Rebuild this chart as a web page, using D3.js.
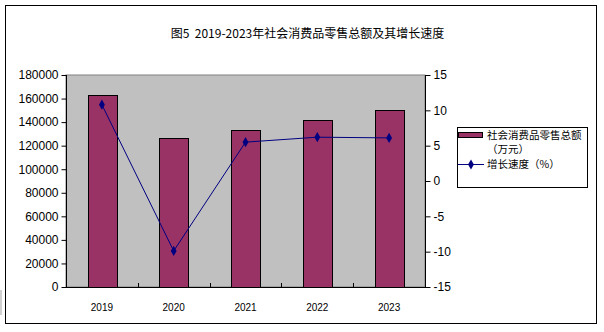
<!DOCTYPE html>
<html>
<head>
<meta charset="utf-8">
<script src="https://cdn.jsdelivr.net/npm/d3@7"></script>
<style>
  html, body { margin: 0; padding: 0; background: #fff; }
  svg { display: block; }
  text { font-family: Arial, "Liberation Sans", sans-serif; fill: #000; }
  .cjk { font-family: "Noto Sans CJK SC", sans-serif; }
</style>
</head>
<body>
<svg id="chart" width="604" height="332"></svg>
<script>
// Retail sales of consumer goods (万元) and growth rate (%), 2019–2023
const years = ["2019", "2020", "2021", "2022", "2023"];
const retailSales = [162800, 126200, 133000, 141500, 150000];
const growthRate = [10.8, -9.9, 5.5, 6.2, 6.1];
const leftTicks = [0, 20000, 40000, 60000, 80000, 100000, 120000, 140000, 160000, 180000];
const rightTicks = [-15, -10, -5, 0, 5, 10, 15];
const titleText = "图5  2019-2023年社会消费品零售总额及其增长速度";
const legendBar = ["社会消费品零售总额", "（万元）"];
const legendLine = "增长速度（%）";

const svg = d3.select("#chart");

// outer frame
svg.append("rect")
  .attr("x", 5.5).attr("y", 5.5)
  .attr("width", 591).attr("height", 318)
  .attr("fill", "#fff").attr("stroke", "#000").attr("stroke-width", 1);

// small stray mark at lower left edge
svg.append("rect")
  .attr("x", 0).attr("y", 290).attr("width", 2).attr("height", 25)
  .attr("fill", "#d0d0d0");

svg.append("text")
  .attr("class", "cjk")
  .attr("x", 307.5).attr("y", 37.5)
  .attr("text-anchor", "middle")
  .attr("font-size", 12)
  .attr("xml:space", "preserve")
  .text(titleText);

const plot = { left: 66, right: 425, top: 75, bottom: 287 };

const x = d3.scaleBand()
  .domain(years)
  .range([plot.left, plot.right])
  .paddingInner(0.6).paddingOuter(0.3);

const yL = d3.scaleLinear().domain([0, 180000]).range([plot.bottom, plot.top]);
const yR = d3.scaleLinear().domain([-15, 15]).range([plot.bottom, plot.top]);

// plot area
svg.append("rect")
  .attr("x", plot.left).attr("y", plot.top)
  .attr("width", plot.right - plot.left).attr("height", plot.bottom - plot.top)
  .attr("fill", "#c0c0c0").attr("stroke", "#808080").attr("stroke-width", 1);

// bars
svg.append("g").selectAll("rect")
  .data(years)
  .join("rect")
  .attr("x", d => Math.round(x(d)) + 0.5)
  .attr("y", (d, i) => Math.round(yL(retailSales[i])) + 0.5)
  .attr("width", Math.round(x.bandwidth()))
  .attr("height", (d, i) => Math.round(yL(0)) - Math.round(yL(retailSales[i])))
  .attr("fill", "#993366")
  .attr("stroke", "#000").attr("stroke-width", 1);

// left axis
const axL = svg.append("g")
  .attr("transform", `translate(${plot.left + 0.5},0)`)
  .call(d3.axisLeft(yL).tickValues(leftTicks).tickSize(5).tickPadding(3).tickFormat(d => String(d)));
// right axis
const axR = svg.append("g")
  .attr("transform", `translate(${plot.right + 0.5},0)`)
  .call(d3.axisRight(yR).tickValues(rightTicks).tickSize(5).tickPadding(3).tickFormat(d => String(d)));

[axL, axR].forEach(g => {
  g.select(".domain").attr("stroke", "#000").attr("d", `M0,${plot.top}V${plot.bottom + 0.5}`);
  g.selectAll(".tick line").attr("stroke", "#000");
  g.selectAll(".tick text").attr("font-size", 12).attr("fill", "#000")
    .attr("font-family", "Arial, 'Liberation Sans', sans-serif");
});

// bottom axis: category boundaries with inward ticks
const bounds = d3.range(years.length + 1).map(i => plot.left + i * (plot.right - plot.left) / years.length);
const axB = svg.append("g");
axB.append("line")
  .attr("x1", plot.left).attr("x2", plot.right + 1)
  .attr("y1", plot.bottom + 0.5).attr("y2", plot.bottom + 0.5)
  .attr("stroke", "#000");
axB.selectAll("line.tk")
  .data(bounds.slice(1, -1))
  .join("line").attr("class", "tk")
  .attr("x1", d => Math.round(d) + 0.5).attr("x2", d => Math.round(d) + 0.5)
  .attr("y1", plot.bottom).attr("y2", plot.bottom - 4)
  .attr("stroke", "#000");
axB.selectAll("text")
  .data(years)
  .join("text")
  .attr("x", d => x(d) + x.bandwidth() / 2)
  .attr("y", 307)
  .attr("dy", "0.35em")
  .attr("text-anchor", "middle")
  .attr("font-size", 10)
  .text(d => d);

// growth line
const line = d3.line()
  .x((d, i) => x(years[i]) + x.bandwidth() / 2)
  .y(d => yR(d));
svg.append("path")
  .datum(growthRate)
  .attr("d", line)
  .attr("fill", "none")
  .attr("stroke", "#000080")
  .attr("stroke-width", 1);
const diamond = d3.symbol().type(d3.symbolDiamond).size(30);
svg.append("g").selectAll("path")
  .data(growthRate)
  .join("path")
  .attr("transform", (d, i) => `translate(${x(years[i]) + x.bandwidth() / 2},${yR(d)})`)
  .attr("d", diamond)
  .attr("fill", "#000080");

// legend
const lg = svg.append("g");
lg.append("rect")
  .attr("x", 457.5).attr("y", 127.5).attr("width", 130).attr("height", 60)
  .attr("fill", "#fff").attr("stroke", "#000").attr("stroke-width", 1);
lg.append("rect")
  .attr("x", 458.5).attr("y", 132.5).attr("width", 24).attr("height", 5)
  .attr("fill", "#993366").attr("stroke", "#000");
lg.append("text").attr("class", "cjk")
  .attr("x", 487).attr("y", 135).attr("dy", "0.35em")
  .attr("font-size", 10.5).text(legendBar[0]);
lg.append("text").attr("class", "cjk")
  .attr("x", 487).attr("y", 149.5).attr("dy", "0.35em")
  .attr("font-size", 10.5).text(legendBar[1]);
lg.append("line")
  .attr("x1", 458).attr("x2", 484).attr("y1", 164.5).attr("y2", 164.5)
  .attr("stroke", "#000080");
lg.append("path")
  .attr("transform", "translate(471,164.5)")
  .attr("d", diamond).attr("fill", "#000080");
lg.append("text").attr("class", "cjk")
  .attr("x", 487).attr("y", 164.5).attr("dy", "0.35em")
  .attr("font-size", 10.5).text(legendLine);
</script>
</body>
</html>
